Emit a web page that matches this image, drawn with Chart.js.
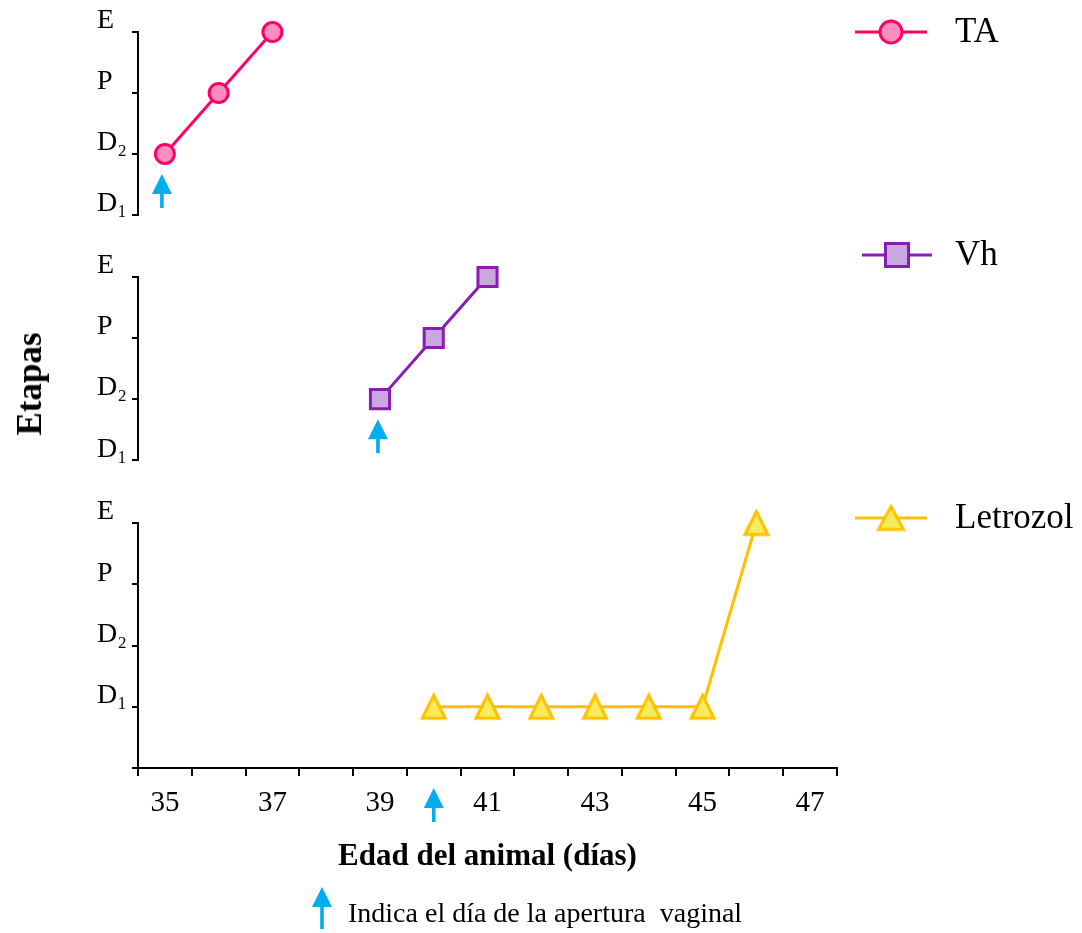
<!DOCTYPE html>
<html>
<head>
<meta charset="utf-8">
<script src="https://cdn.jsdelivr.net/npm/chart.js@4.4.1/dist/chart.umd.min.js"></script>
<style>
  body { margin:0; background:#fff; width:1082px; height:933px; position:relative; overflow:hidden; font-family:'Liberation Serif', 'Times New Roman', serif; color:#000; }
  canvas { position:absolute; left:0; }
  #c1 { top:0; }
  #c2 { top:240px; }
  #c3 { top:480px; }
  #etapas { position:absolute; left:30px; top:384px; transform:translate(-50%, -50%) rotate(-90deg); font-weight:bold; font-size:35px; white-space:nowrap; }
  #note { position:absolute; left:348px; top:899px; font-size:28px; line-height:28px; white-space:nowrap; }
  #noteArrow { position:absolute; left:312px; top:887px; }
</style>
</head>
<body>
<canvas id="c1" width="1082" height="240"></canvas>
<canvas id="c2" width="1082" height="240"></canvas>
<canvas id="c3" width="1082" height="453"></canvas>
<div id="etapas">Etapas</div>
<svg id="noteArrow" width="20" height="42" viewBox="0 0 20 42">
  <polygon points="10,0 0,20 20,20" fill="#00AEEF"/>
  <rect x="8.2" y="18" width="3.6" height="24" fill="#00AEEF"/>
</svg>
<div id="note">Indica el día de la apertura&nbsp; vaginal</div>
<script>
// datos
const days = [35, 36, 37, 38, 39, 40, 41, 42, 43, 44, 45, 46, 47];
const stageLabels = ['', 'D\u2081', 'D\u2082', 'P', 'E'];

const taDays = [35, 36, 37];
const taStage = [2, 3, 4];
const vhDays = [39, 40, 41];
const vhStage = [2, 3, 4];
const letDays = [40, 41, 42, 43, 44, 45, 46];
const letStage = [1, 1, 1, 1, 1, 1, 4];

// dia de la apertura vaginal
const openTA = 35;
const openVh = 39;
const openLet = 40;

const ARROW = '#00AEEF';

Chart.defaults.font.family = "'Liberation Serif', 'Times New Roman', serif";
Chart.defaults.color = '#000';

// triangulo un poco mas alto que equilatero, como en la figura
function makeTriangle(w, h, bw, fill, stroke) {
  const c = document.createElement('canvas');
  c.width = w + bw * 2;
  c.height = h + bw * 2;
  const g = c.getContext('2d');
  g.beginPath();
  g.moveTo(c.width / 2, bw);
  g.lineTo(c.width - bw, c.height - bw);
  g.lineTo(bw, c.height - bw);
  g.closePath();
  g.fillStyle = fill;
  g.fill();
  g.lineJoin = 'miter';
  g.lineWidth = bw;
  g.strokeStyle = stroke;
  g.stroke();
  return c;
}

function drawMarker(ctx, style, x, y, r, fill, stroke, bw) {
  if (style instanceof HTMLCanvasElement) {
    ctx.drawImage(style, x - style.width / 2, y - style.height / 2);
    return;
  }
  ctx.beginPath();
  if (style === 'circle') {
    ctx.arc(x, y, r, 0, Math.PI * 2);
  } else {
    ctx.rect(x - r, y - r, 2 * r, 2 * r);
  }
  ctx.fillStyle = fill;
  ctx.fill();
  ctx.lineWidth = bw;
  ctx.strokeStyle = stroke;
  ctx.stroke();
}

function drawArrow(ctx, x, tip, end) {
  ctx.fillStyle = ARROW;
  ctx.beginPath();
  ctx.moveTo(x, tip);
  ctx.lineTo(x + 10, tip + 20);
  ctx.lineTo(x - 10, tip + 20);
  ctx.closePath();
  ctx.fill();
  ctx.fillRect(x - 1.8, tip + 18, 3.6, end - tip - 18);
}

// leyenda a la derecha, linea + marcador + texto
const sideLegend = {
  id: 'sideLegend',
  afterDraw(chart, args, o) {
    const ds = chart.data.datasets[0];
    const ctx = chart.ctx;
    ctx.save();
    ctx.strokeStyle = ds.borderColor;
    ctx.lineWidth = ds.borderWidth;
    ctx.beginPath();
    ctx.moveTo(o.x0, o.y);
    ctx.lineTo(o.x1, o.y);
    ctx.stroke();
    drawMarker(ctx, o.marker || ds.pointStyle, (o.x0 + o.x1) / 2, o.y, o.size, ds.pointBackgroundColor, ds.pointBorderColor, ds.pointBorderWidth);
    ctx.fillStyle = '#000';
    ctx.font = "35px 'Liberation Serif', serif";
    ctx.textBaseline = 'middle';
    ctx.textAlign = 'left';
    ctx.fillText(ds.label, 955, o.y + 1);
    ctx.restore();
  }
};

// flecha azul = apertura vaginal
const openArrow = {
  id: 'openArrow',
  afterDatasetsDraw(chart, args, o) {
    const x = chart.scales.x.getPixelForValue(days.indexOf(o.day)) + (o.dx || 0);
    const b = chart.chartArea.bottom;
    const tip = o.below ? b + 20 : b - 41;
    chart.ctx.save();
    drawArrow(chart.ctx, x, tip, tip + 34);
    chart.ctx.restore();
  }
};

function yScale(min) {
  return {
    min: min,
    max: 4,
    afterFit: s => { s.width = 41; },
    border: { color: '#000', width: 2 },
    grid: { drawOnChartArea: false, drawTicks: true, tickLength: 6, color: '#000', lineWidth: 2 },
    ticks: {
      stepSize: 1,
      crossAlign: 'far',
      labelOffset: -11,
      color: '#000',
      font: { size: 28 },
      callback: v => stageLabels[v]
    }
  };
}

function makeData(label, xs, ys, st) {
  return {
    datasets: [{
      label: label,
      data: xs.map((d, i) => ({ x: d, y: ys[i] })),
      borderColor: st.line,
      borderWidth: st.lw,
      pointStyle: st.style,
      pointRadius: st.r,
      pointHoverRadius: st.r,
      pointBackgroundColor: st.fill,
      pointBorderColor: st.line,
      pointBorderWidth: st.bw,
      tension: 0,
      clip: false
    }]
  };
}

const taStyle = { line: '#FF0066', fill: '#FF8DBE', style: 'circle', r: 9.5, bw: 3, lw: 3 };
const vhStyle = { line: '#8A1CB3', fill: '#C9A8E0', style: 'rect', r: 13.5, bw: 3, lw: 3 };
const letStyle = { line: '#FFC000', fill: '#F8EC5E', style: makeTriangle(23, 23, 3, '#F8EC5E', '#FFC000'), r: 13, bw: 3, lw: 3 };
const letLegendMark = makeTriangle(25, 23, 3, '#F8EC5E', '#FFC000');

const hiddenX = { type: 'category', labels: days, offset: true, display: false };

new Chart(document.getElementById('c1'), {
  type: 'line',
  data: makeData('TA', taDays, taStage, taStyle),
  options: {
    responsive: false,
    animation: false,
    layout: { padding: { left: 97, right: 245, top: 32, bottom: 25 } },
    scales: { x: hiddenX, y: yScale(1) },
    plugins: {
      legend: { display: false },
      tooltip: { enabled: false },
      sideLegend: { x0: 855, x1: 927, y: 32, size: 11 },
      openArrow: { day: openTA, dx: -3 }
    }
  },
  plugins: [sideLegend, openArrow]
});

new Chart(document.getElementById('c2'), {
  type: 'line',
  data: makeData('Vh', vhDays, vhStage, vhStyle),
  options: {
    responsive: false,
    animation: false,
    layout: { padding: { left: 97, right: 245, top: 37, bottom: 19 } },
    scales: { x: hiddenX, y: yScale(1) },
    plugins: {
      legend: { display: false },
      tooltip: { enabled: false },
      sideLegend: { x0: 862, x1: 932, y: 15, size: 11.5 },
      openArrow: { day: openVh, dx: -2 }
    }
  },
  plugins: [sideLegend, openArrow]
});

new Chart(document.getElementById('c3'), {
  type: 'line',
  data: makeData('Letrozol', letDays, letStage, letStyle),
  options: {
    responsive: false,
    animation: false,
    layout: { padding: { left: 97, right: 245, top: 43, bottom: 57 } },
    scales: {
      x: {
        type: 'category',
        labels: days,
        offset: true,
        afterFit: s => { s.height = 108; },
        border: { color: '#000', width: 2 },
        grid: { offset: true, drawOnChartArea: false, drawTicks: true, tickLength: 8, color: '#000', lineWidth: 2 },
        ticks: {
          autoSkip: false,
          maxRotation: 0,
          padding: 10,
          color: '#000',
          font: { size: 29 },
          callback: (v, i) => (i % 2 === 0 ? String(days[i]) : '')
        },
        title: {
          display: true,
          text: 'Edad del animal (días)',
          color: '#000',
          font: { size: 31, weight: 'bold' },
          padding: { top: 0, bottom: 0 }
        }
      },
      y: yScale(0)
    },
    plugins: {
      legend: { display: false },
      tooltip: { enabled: false },
      sideLegend: { x0: 855, x1: 927, y: 38, marker: letLegendMark },
      openArrow: { day: openLet, below: true }
    }
  },
  plugins: [sideLegend, openArrow]
});
</script>
</body>
</html>
